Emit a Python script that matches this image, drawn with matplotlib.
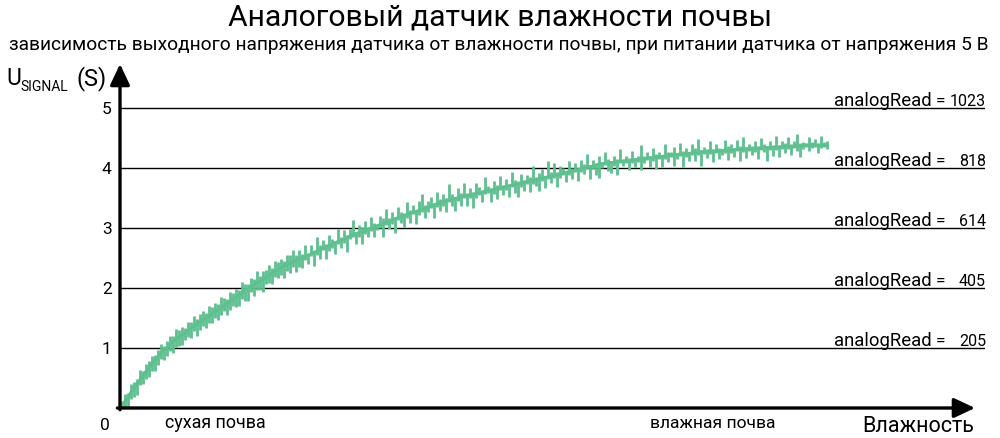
import matplotlib
matplotlib.use('Agg')
import matplotlib.pyplot as plt
import numpy as np

plt.rcParams['font.family'] = ['Roboto', 'DejaVu Sans']

# data: sensor output (V) per humidity step
# trend = middle of the noisy trace (V)
# dev_up / dev_dn = noise spread, in pixels of the source chart (60 px = 1 V)
trend = [
   0.02, 0.10, 0.17, 0.25, 0.32, 0.39, 0.46, 0.53, 0.60, 0.66,
   0.72, 0.78, 0.84, 0.90, 0.95, 1.00, 1.05, 1.10, 1.14, 1.18,
   1.21, 1.25, 1.29, 1.32, 1.36, 1.39, 1.43, 1.46, 1.50, 1.53,
   1.56, 1.60, 1.63, 1.67, 1.70, 1.74, 1.77, 1.80, 1.84, 1.87,
   1.91, 1.94, 1.97, 2.01, 2.04, 2.08, 2.11, 2.14, 2.17, 2.21,
   2.24, 2.27, 2.31, 2.34, 2.36, 2.39, 2.41, 2.43, 2.45, 2.48,
   2.50, 2.52, 2.54, 2.56, 2.59, 2.61, 2.63, 2.66, 2.68, 2.70,
   2.72, 2.75, 2.77, 2.79, 2.81, 2.84, 2.86, 2.88, 2.90, 2.92,
   2.93, 2.95, 2.97, 2.99, 3.01, 3.03, 3.05, 3.07, 3.09, 3.11,
   3.13, 3.15, 3.17, 3.18, 3.20, 3.22, 3.24, 3.26, 3.27, 3.29,
   3.31, 3.33, 3.35, 3.36, 3.38, 3.40, 3.42, 3.44, 3.45, 3.47,
   3.48, 3.49, 3.50, 3.52, 3.53, 3.54, 3.55, 3.56, 3.57, 3.58,
   3.59, 3.61, 3.62, 3.63, 3.64, 3.65, 3.66, 3.67, 3.69, 3.70,
   3.71, 3.72, 3.73, 3.74, 3.76, 3.77, 3.78, 3.79, 3.80, 3.82,
   3.83, 3.84, 3.85, 3.86, 3.88, 3.89, 3.90, 3.91, 3.92, 3.94,
   3.95, 3.96, 3.97, 3.98, 4.00, 4.01, 4.02, 4.03, 4.04, 4.06,
   4.07, 4.08, 4.08, 4.09, 4.09, 4.10, 4.11, 4.11, 4.12, 4.12,
   4.13, 4.14, 4.14, 4.15, 4.15, 4.16, 4.17, 4.17, 4.18, 4.18,
   4.19, 4.20, 4.20, 4.21, 4.21, 4.22, 4.23, 4.23, 4.24, 4.24,
   4.25, 4.26, 4.26, 4.27, 4.27, 4.27, 4.28, 4.28, 4.28, 4.29,
   4.29, 4.29, 4.30, 4.30, 4.30, 4.31, 4.31, 4.31, 4.32, 4.32,
   4.32, 4.32, 4.33, 4.33, 4.33, 4.34, 4.34, 4.34, 4.35, 4.35,
   4.35, 4.36, 4.36, 4.36, 4.36, 4.37, 4.37, 4.37, 4.38, 4.38,
   4.38, 4.38, 4.38, 4.38, 4.38, 4.38,
]
dev_up = [
   6, 8, 5, 9, 7, 6, 10, 5, 8, 7,
   9, 6, 8, 10, 5, 7, 9, 6, 11, 7,
   8, 5, 9, 7, 10, 6, 8, 9, 5, 10,
   7, 9, 6, 11, 8, 5, 10, 7, 9, 6,
   11, 8, 6, 9, 7, 12, 5, 9, 8, 10,
   6, 11, 7, 9, 5, 10, 8, 12, 6, 9,
   4, 12, 3, 9, 2, 14, 5, 8, 3, 11,
   6, 2, 13, 4, 9, 3, 7, 15, 2, 8,
   5, 10, 3, 12, 4, 2, 9, 6, 14, 3,
   8, 2, 11, 5, 3, 13, 4, 7, 2, 10,
   15, 3, 6, 9, 2, 12, 4, 8, 3, 16,
   5, 2, 10, 4, 13, 3, 7, 2, 11, 6,
   3, 14, 5, 2, 9, 4, 12, 3, 8, 2,
   13, 5, 3, 10, 2, 7, 4, 15, 3, 6,
   9, 2, 16, 4, 12, 3, 8, 5, 2, 11,
   3, 7, 2, 9, 4, 13, 2, 6, 3, 8,
   2, 11, 4, 2, 7, 3, 12, 2, 5, 3,
   9, 2, 4, 14, 3, 6, 2, 10, 3, 5,
   2, 12, 4, 3, 8, 2, 11, 3, 6, 2,
   9, 4, 13, 2, 5, 3, 10, 2, 7, 3,
   2, 11, 4, 6, 2, 9, 3, 12, 2, 5,
   3, 8, 2, 10, 4, 2, 7, 3, 11, 2,
   6, 3, 9, 2, 5, 12, 3, 4, 2, 8,
   3, 6, 2, 9, 3, 4,
]
dev_dn = [
   5, 7, 9, 6, 8, 10, 5, 8, 7, 9,
   6, 10, 7, 5, 9, 8, 6, 11, 7, 9,
   10, 7, 6, 9, 5, 11, 8, 6, 10, 7,
   9, 6, 10, 7, 5, 11, 8, 6, 9, 10,
   6, 9, 11, 5, 10, 7, 9, 12, 6, 8,
   10, 5, 9, 7, 12, 6, 10, 5, 11, 8,
   10, 3, 8, 2, 13, 4, 9, 2, 12, 5,
   3, 11, 2, 7, 4, 14, 3, 2, 10, 4,
   12, 3, 7, 2, 10, 4, 3, 13, 2, 8,
   4, 14, 2, 6, 11, 3, 9, 2, 12, 4,
   3, 10, 5, 2, 13, 3, 8, 4, 11, 2,
   7, 12, 3, 9, 2, 10, 3, 14, 4, 2,
   9, 3, 2, 12, 4, 10, 2, 7, 3, 11,
   2, 8, 13, 3, 9, 2, 11, 3, 6, 12,
   3, 10, 2, 7, 3, 12, 4, 2, 9, 3,
   8, 2, 11, 3, 6, 2, 12, 3, 9, 14,
   4, 2, 8, 10, 3, 13, 2, 5, 2, 9,
   3, 7, 2, 11, 4, 2, 9, 3, 12, 2,
   10, 3, 6, 2, 11, 4, 2, 13, 3, 7,
   2, 9, 3, 14, 2, 6, 3, 11, 2, 8,
   4, 2, 10, 3, 7, 2, 12, 3, 9, 2,
   6, 3, 11, 2, 4, 13, 2, 8, 3, 10,
   2, 7, 3, 9, 2, 5, 11, 3, 2, 6,
   3, 2, 8, 3, 2, 4,
]
levels      = [1, 2, 3, 4, 5]
read_values = ['205', '405', '614', '818', '1023']
ytick_lbls  = ['1', '2', '3', '4', '5']

W, H = 1000, 438
GREEN = '#5ebf8f'
PX_PER_V = 60

def fx(px): return px / W
def fy(py): return 1 - py / H

fig = plt.figure(figsize=(W/100, H/100), dpi=100)
# axes box in pixels: x 120..985, y 60..408
ax = fig.add_axes([fx(120), fy(408), fx(985) - fx(120), (408 - 60) / H])
XMAX = 865 / 3
ax.set_xlim(0, XMAX)
ax.set_ylim(0, 348 / PX_PER_V)
for s in ax.spines.values():
   s.set_visible(False)
ax.set_xticks([])
ax.set_yticks(levels)
ax.set_yticklabels(ytick_lbls, fontsize=12.5)
ax.tick_params(axis='y', length=0, pad=6)

# horizontal level lines
ax.hlines(levels, 0, XMAX, color='black', lw=1.0)

x     = np.arange(len(trend)) + 0.5
trend = np.array(trend)
lo    = np.maximum(trend - np.array(dev_dn) / PX_PER_V, 0.0)
hi    = trend + np.array(dev_up) / PX_PER_V
ax.plot(x, trend, color=GREEN, lw=2.2, solid_capstyle='butt')
ax.vlines(x, lo, hi, color=GREEN, lw=2.0)

# axes with arrows
arrow = dict(arrowstyle='-|>,head_length=0.85,head_width=0.4', lw=2.4,
             color='black', shrinkA=0, shrinkB=0, mutation_scale=15)
ax.annotate('', xy=((975 - 120) / 865, 0), xytext=(-0.003, 0),
            xycoords='axes fraction', arrowprops=arrow, annotation_clip=False)
ax.annotate('', xy=(0, (408 - 64) / 348), xytext=(0, -0.005),
            xycoords='axes fraction', arrowprops=arrow, annotation_clip=False)

# level labels sit just above each line
for lv, val in zip(levels, read_values):
   py = 408 - lv * PX_PER_V
   fig.text(fx(834), fy(py - 2), 'analogRead', fontsize=13.3, ha='left', va='baseline')
   fig.text(fx(936), fy(py - 2), '=', fontsize=12.5, ha='left', va='baseline')
   fig.text(fx(986), fy(py - 2), val, fontsize=11.5, ha='right', va='baseline')

# titles
fig.text(0.5, fy(18), 'Аналоговый датчик влажности почвы', fontsize=21.7,
         ha='center', va='center')
fig.text(0.499, fy(45), 'зависимость выходного напряжения датчика от влажности почвы, '
         'при питании датчика от напряжения 5 В', fontsize=13.8, ha='center', va='center')

# y axis label
fig.text(fx(6), fy(85), 'U', fontsize=16.5, ha='left', va='baseline')
fig.text(fx(20), fy(91), 'SIGNAL', fontsize=10, ha='left', va='baseline')
fig.text(fx(77), fy(85), '(S)', fontsize=17, ha='left', va='baseline')

# x axis texts
fig.text(fx(105), fy(425), '0', fontsize=12.5, ha='center', va='center')
fig.text(fx(165), fy(423), 'сухая почва', fontsize=12.9, ha='left', va='center')
fig.text(fx(650), fy(423), 'влажная почва', fontsize=12.6, ha='left', va='center')
fig.text(fx(862), fy(427), 'Влажность', fontsize=15.5, ha='left', va='center')

fig.savefig('out.png', dpi=100)
